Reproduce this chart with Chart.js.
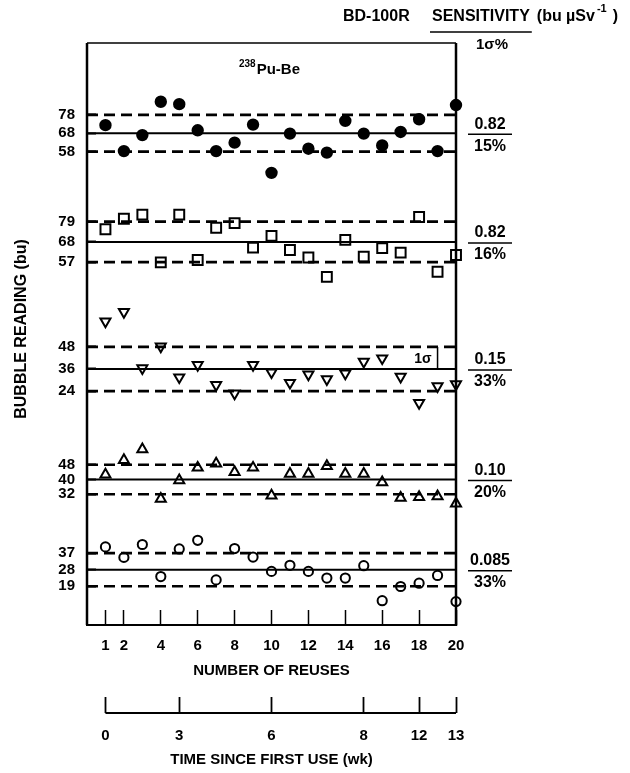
<!DOCTYPE html>
<html>
<head>
<meta charset="utf-8">
<title>BD-100R bubble reading vs reuse</title>
<script src="https://cdn.jsdelivr.net/npm/chart.js@4.4.1/dist/chart.umd.min.js"></script>
<style>
    html, body { margin: 0; padding: 0; background: #fff; }
    #wrap { width: 630px; height: 773px; position: relative; }
</style>
</head>
<body>
<div id="wrap"><canvas id="Bubble__canvas"></canvas></div>
<script>
// number of reuses (x) for every reading
var reuses = [1, 2, 3, 4, 5, 6, 7, 8, 9, 10, 11, 12, 13, 14, 15, 16, 17, 18, 19, 20];
var reuseTicks = [1, 2, 4, 6, 8, 10, 12, 14, 16, 18, 20];
// second scale: weeks since first use, and the reuse they line up with
var weekTicks = [0, 3, 6, 8, 12, 13];
var weekAtReuse = [1, 5, 10, 15, 18, 20];

// bubble readings (bu), one array per detector, top band to bottom band
var readingsDot = [72.4, 58.3, 67, 85.1, 83.8, 69.6, 58.3, 62.9, 72.7, 46.5, 67.8, 59.6, 57.5, 74.7, 67.8, 61.4, 68.7, 75.6, 58.3, 83.3];
var readingsSquare = [74.9, 80.6, 82.8, 56.9, 82.8, 58.2, 75.7, 78.2, 64.9, 71.3, 63.6, 59.5, 49, 69.1, 60, 64.6, 62.2, 81.5, 51.8, 60.9];
var readingsDown = [61.8, 67, 36.4, 48.2, 31.5, 38.2, 27.3, 22.7, 38.2, 34.2, 28.5, 33, 30.5, 33.6, 40, 41.8, 31.8, 17.6, 26.7, 27.8];
var readingsUp = [42.7, 50.5, 56.4, 29.5, 39.5, 46.4, 48.7, 44, 46.4, 31.3, 43.1, 43.1, 47.3, 43.1, 43.1, 38.5, 30, 30.5, 30.9, 26.9];
var readingsRing = [40.4, 34.7, 41.7, 24.3, 39.3, 44, 22.5, 39.5, 34.9, 27.1, 30.4, 27.1, 23.5, 23.5, 30.2, 11.2, 18.9, 20.7, 24.9, 10.7];

// mean and +/- 1 sigma levels (these are also the tick labels)
var meanVals = [68, 68, 36, 40, 28];
var upperVals = [78, 79, 48, 48, 37];
var lowerVals = [58, 57, 24, 32, 19];
var sensitivity = ['0.82', '0.82', '0.15', '0.10', '0.085'];
var sigmaPct = ['15%', '16%', '33%', '20%', '33%'];

// y range of every band (bands are stacked on one left axis)
var bandMin = [37, 39, 4, 17, -2];
var bandMax = [117, 96, 76, 68, 54];

var sigmaBand = 2;   // the band carrying the "1σ" bracket
var sigmaAtReuse = 19;

var FONT = '"Liberation Sans", Arial, Helvetica, sans-serif';
Chart.defaults.font.family = FONT;
Chart.defaults.color = '#000';

var markerStyles = [
    { pointStyle: 'circle', radius: 5.2, rotation: 0, fill: '#000' },
    { pointStyle: 'rect', radius: 7, rotation: 0, fill: '#fff' },
    { pointStyle: 'triangle', radius: 5.8, rotation: 180, fill: '#fff' },
    { pointStyle: 'triangle', radius: 5.8, rotation: 0, fill: '#fff' },
    { pointStyle: 'circle', radius: 4.6, rotation: 0, fill: '#fff' }
];

function toPoints(values) {
    return values.map(function (v, i) { return { x: reuses[i], y: v }; });
}

function levelLine(band, value, dashed) {
    return {
        yAxisID: 'y' + band,
        data: [{ x: 0, y: value }, { x: 20, y: value }],
        showLine: true,
        borderColor: '#000',
        borderWidth: dashed ? 2.6 : 2,
        borderDash: dashed ? [11, 6] : [],
        pointRadius: 0,
        clip: false
    };
}

function buildDatasets() {
    var all = [readingsDot, readingsSquare, readingsDown, readingsUp, readingsRing];
    var sets = [];
    for (var k = 0; k < all.length; k++) {
        sets.push(levelLine(k, upperVals[k], true));
        sets.push(levelLine(k, meanVals[k], false));
        sets.push(levelLine(k, lowerVals[k], true));
    }
    // 1 sigma bracket
    sets.push({
        yAxisID: 'y' + sigmaBand,
        data: [{ x: sigmaAtReuse, y: meanVals[sigmaBand] }, { x: sigmaAtReuse, y: upperVals[sigmaBand] }],
        showLine: true,
        borderColor: '#000',
        borderWidth: 1.5,
        pointRadius: 0
    });
    for (var k = 0; k < all.length; k++) {
        var st = markerStyles[k];
        sets.push({
            yAxisID: 'y' + k,
            data: toPoints(all[k]),
            pointStyle: st.pointStyle,
            pointRadius: st.radius,
            pointRotation: st.rotation,
            pointBackgroundColor: st.fill,
            pointBorderColor: '#000',
            pointBorderWidth: 2,
            showLine: false,
            clip: false
        });
    }
    return sets;
}

function bandScale(k) {
    return {
        type: 'linear',
        axis: 'y',
        position: 'left',
        stack: 'bands',
        stackWeight: bandMax[k] - bandMin[k],
        weight: 10 - k,
        min: bandMin[k],
        max: bandMax[k],
        afterBuildTicks: function (scale) {
            scale.ticks = [lowerVals[k], meanVals[k], upperVals[k]].map(function (v) { return { value: v }; });
        },
        afterFit: function (scale) { scale.width = 87; },
        ticks: {
            autoSkip: false,
            padding: 21,
            color: '#000',
            font: { size: 15, weight: 'bold' }
        },
        grid: { drawOnChartArea: false, tickLength: -9, tickWidth: 2, tickColor: '#000' },
        border: { display: false }
    };
}

function buildScales() {
    var scales = {
        x: {
            type: 'linear',
            position: 'bottom',
            min: 0,
            max: 20,
            afterBuildTicks: function (scale) {
                scale.ticks = reuseTicks.map(function (v) { return { value: v }; });
            },
            afterFit: function (scale) { scale.height = 88; },
            ticks: { autoSkip: false, maxRotation: 0, padding: 27, color: '#000', font: { size: 15, weight: 'bold' } },
            grid: { drawOnChartArea: false, tickLength: -15, tickWidth: 1.5, tickColor: '#000' },
            border: { color: '#000', width: 2 },
            title: { display: true, text: 'NUMBER OF REUSES', color: '#000', padding: { top: 0, bottom: 33 }, font: { size: 15, weight: 'bold' } }
        },
        x2: {
            type: 'linear',
            position: 'bottom',
            min: 0,
            max: 20,
            afterBuildTicks: function (scale) {
                scale.ticks = weekAtReuse.map(function (v) { return { value: v }; });
            },
            afterFit: function (scale) { scale.height = 60; },
            ticks: {
                autoSkip: false,
                maxRotation: 0,
                padding: 30,
                color: '#000',
                font: { size: 15, weight: 'bold' },
                callback: function (value) { return String(weekTicks[weekAtReuse.indexOf(value)]); }
            },
            grid: { drawOnChartArea: false, tickLength: -16, tickWidth: 1.8, tickColor: '#000' },
            border: { display: false },
            title: { display: true, text: 'TIME SINCE FIRST USE (wk)', color: '#000', padding: { top: 0, bottom: 4 }, font: { size: 15, weight: 'bold' } }
        }
    };
    for (var k = 0; k < meanVals.length; k++) {
        scales['y' + k] = bandScale(k);
    }
    return scales;
}

// frame, time axis line and all the loose text
var sheetPlugin = {
    id: 'sheet',
    afterDraw: function (chart) {
        var ctx = chart.ctx;
        var area = chart.chartArea;
        var x2 = chart.scales.x2;
        ctx.save();
        ctx.strokeStyle = '#000';
        ctx.fillStyle = '#000';

        ctx.lineWidth = 1.6;
        ctx.beginPath();
        ctx.moveTo(area.left, area.top);
        ctx.lineTo(area.right, area.top);
        ctx.stroke();
        ctx.lineWidth = 2.5;
        ctx.beginPath();
        ctx.moveTo(area.left, area.top);
        ctx.lineTo(area.left, area.bottom);
        ctx.moveTo(area.right, area.top);
        ctx.lineTo(area.right, area.bottom);
        ctx.stroke();

        ctx.lineWidth = 2;
        ctx.beginPath();
        ctx.moveTo(x2.getPixelForValue(weekAtReuse[0]), x2.top);
        ctx.lineTo(x2.getPixelForValue(weekAtReuse[weekAtReuse.length - 1]), x2.top);
        ctx.stroke();

        // sensitivity over 1 sigma % at the right of every band
        ctx.textAlign = 'center';
        ctx.textBaseline = 'middle';
        ctx.font = 'bold 16px ' + FONT;
        for (var k = 0; k < meanVals.length; k++) {
            var py = chart.scales['y' + k].getPixelForValue(meanVals[k]);
            ctx.fillText(sensitivity[k], 490, py - 9);
            ctx.fillText(sigmaPct[k], 490, py + 13);
            ctx.lineWidth = 1.5;
            ctx.beginPath();
            ctx.moveTo(468, py + 1);
            ctx.lineTo(512, py + 1);
            ctx.stroke();
        }

        // 1 sigma label next to the bracket
        var ys = chart.scales['y' + sigmaBand];
        var bx = chart.scales.x.getPixelForValue(sigmaAtReuse);
        var by = (ys.getPixelForValue(meanVals[sigmaBand]) + ys.getPixelForValue(upperVals[sigmaBand])) / 2;
        ctx.textAlign = 'right';
        ctx.font = 'bold 14px ' + FONT;
        ctx.fillText('1σ', bx - 6, by + 1);

        // source label
        ctx.textAlign = 'left';
        ctx.textBaseline = 'alphabetic';
        ctx.font = 'bold 10px ' + FONT;
        var supW = ctx.measureText('238').width;
        ctx.font = 'bold 15px ' + FONT;
        var mainW = ctx.measureText('Pu-Be').width;
        var sx = 269 - (supW + mainW) / 2;
        ctx.font = 'bold 10px ' + FONT;
        ctx.fillText('238', sx, 67);
        ctx.font = 'bold 15px ' + FONT;
        ctx.fillText('Pu-Be', sx + supW + 1, 74);

        // header
        ctx.font = 'bold 16px ' + FONT;
        ctx.fillText('BD-100R', 343, 21);
        var sensX = 432;
        var sensW = ctx.measureText('SENSITIVITY').width;
        ctx.fillText('SENSITIVITY', sensX, 21);
        ctx.lineWidth = 1.5;
        ctx.beginPath();
        ctx.moveTo(sensX - 2, 32);
        ctx.lineTo(sensX + sensW + 2, 32);
        ctx.stroke();
        ctx.textAlign = 'center';
        ctx.font = 'bold 15px ' + FONT;
        ctx.fillText('1σ%', 492, 49);
        ctx.textAlign = 'left';
        ctx.font = 'bold 16px ' + FONT;
        var hx = sensX + sensW + 7;
        ctx.fillText('(bu µSv', hx, 21);
        hx += ctx.measureText('(bu µSv').width + 2;
        ctx.font = 'bold 11px ' + FONT;
        ctx.fillText('-1', hx, 12);
        hx += ctx.measureText('-1').width + 6;
        ctx.font = 'bold 16px ' + FONT;
        ctx.fillText(')', hx, 21);

        // y title
        ctx.translate(22, (area.top + area.bottom) / 2 - 5);
        ctx.rotate(-Math.PI / 2);
        ctx.textAlign = 'center';
        ctx.textBaseline = 'middle';
        ctx.font = 'bold 16px ' + FONT;
        ctx.fillText('BUBBLE READING (bu)', 0, 0);
        ctx.restore();
    }
};

function Bubble_status_1() {
    var ctr = document.getElementById('Bubble__canvas');
    var chart = new Chart(ctr, {
        type: 'scatter',
        data: { datasets: buildDatasets() },
        options: {
            responsive: true,
            maintainAspectRatio: false,
            animation: false,
            layout: { padding: { left: 0, top: 43, right: 174, bottom: 0 } },
            plugins: {
                legend: { display: false },
                tooltip: { enabled: false }
            },
            scales: buildScales()
        },
        plugins: [sheetPlugin]
    });
}

Bubble_status_1();
</script>
</body>
</html>
